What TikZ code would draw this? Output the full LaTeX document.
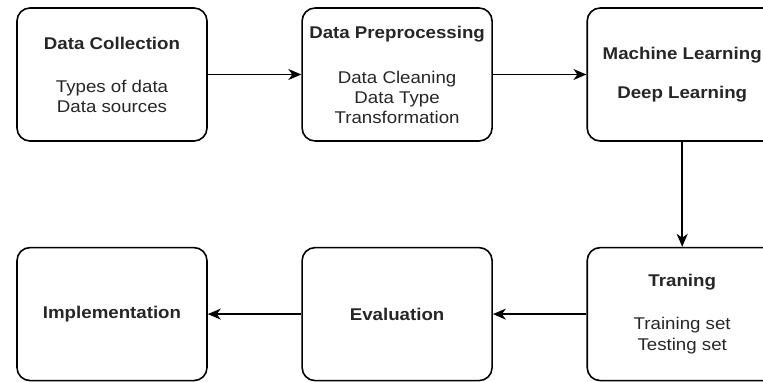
\documentclass[tikz,border=0pt]{standalone}
\usepackage{fontspec}
\setmainfont{Liberation Sans}[FakeStretch=1.1]
\usetikzlibrary{positioning, arrows.meta}

\tikzset{
  stage/.style={draw, rounded corners=13pt, line width=1.6pt, minimum width=190pt, minimum height=133pt, align=center, text=black!85, font=\fontsize{17}{20}\selectfont},
  flow/.style={-{Stealth[length=13pt, width=11pt, inset=4pt]}, line width=1.6pt}
}

\begin{document}
\begin{tikzpicture}[x=1pt, y=1pt]
\useasboundingbox (0,0) rectangle (763,381);
% top row
\node[stage] (col) at (112,306.5) {\textbf{Data Collection}\\[23pt] Types of data\\ Data sources};
\node[stage, right=93.5pt of col] (pre) {\textbf{Data Preprocessing}\\[25pt] Data Cleaning\\ Data Type\\ Transformation};
\node[stage, right=93.5pt of pre] (ml) {\textbf{Machine Learning}\\[19pt] \textbf{Deep Learning}};
% bottom row
\node[stage, below=105pt of ml] (tr) {\textbf{Traning}\\[23pt] Training set\\[1pt] Testing set};
\node[stage, left=93.5pt of tr] (ev) {\textbf{Evaluation}};
\node[stage, left=93.5pt of ev] (imp) {\textbf{Implementation}};

\draw [flow] (col.east) -- (pre.west);
\draw [flow] (pre.east) -- (ml.west);
\draw [flow] (ml.south) -- (tr.north);
\draw [flow] (tr.west) -- (ev.east);
\draw [flow] (ev.west) -- (imp.east);
\end{tikzpicture}
\end{document}
